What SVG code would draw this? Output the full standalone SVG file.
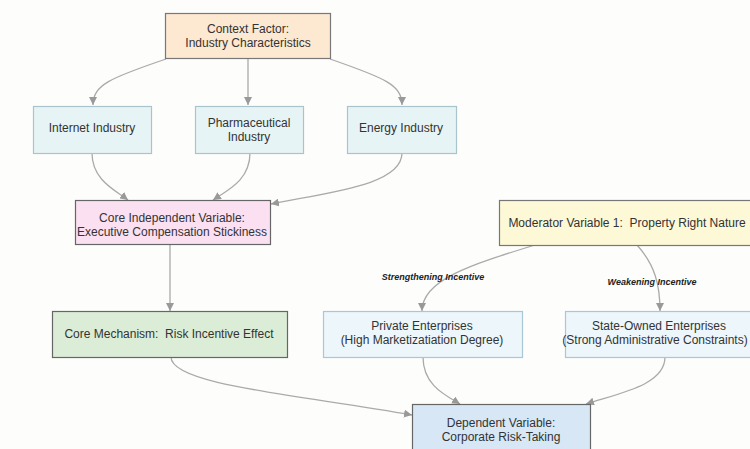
<svg xmlns="http://www.w3.org/2000/svg" width="750" height="449" viewBox="0 0 750 449">
<defs>
<marker id="arr" markerWidth="9" markerHeight="8" refX="8" refY="4" orient="auto" markerUnits="userSpaceOnUse">
<path d="M0,0 L8,4 L0,8 z" fill="#999"/>
</marker>
<style>
.t{font-family:"Liberation Sans",Arial,sans-serif;font-size:12px;fill:#333;text-anchor:middle}
.lb{font-family:"Liberation Sans",Arial,sans-serif;font-size:9px;font-weight:bold;font-style:italic;fill:#222;text-anchor:middle}
.c{fill:none;stroke:#aaa;stroke-width:1.3;marker-end:url(#arr)}
.b{stroke-width:1.2}
</style>
</defs>
<rect width="750" height="449" fill="#fdfdfc"/>
<g id="connectors">
<path class="c" d="M166,59 C110,78 93,85 93,105"/>
<path class="c" d="M248,59 L248,105"/>
<path class="c" d="M330,59 C385,78 402,85 402,105"/>
<path class="c" d="M92,153 C92,180 115,190 128,200"/>
<path class="c" d="M250,153 C250,180 228,190 213,200"/>
<path class="c" d="M402,153 C402,185 330,192 271,204"/>
<path class="c" d="M170,244 L170,311"/>
<path class="c" d="M535,245 C470,265 422,280 422,311"/>
<path class="c" d="M637,245 C655,265 660,285 660,311"/>
<path class="c" d="M171,357 C171,385 300,395 412,415"/>
<path class="c" d="M423,357 C423,385 445,395 460,404"/>
<path class="c" d="M665,357 C665,385 620,393 586,404"/>
</g>
<g id="labels">
<text class="lb" x="433" y="280">Strengthening Incentive</text>
<text class="lb" x="652" y="285">Weakening Incentive</text>
</g>
<g id="context">
<rect class="b" x="165.5" y="13.5" width="165" height="45" fill="#fde8d2" stroke="#777"/>
<text class="t" x="248" y="33">Context Factor:</text>
<text class="t" x="248" y="47">Industry Characteristics</text>
</g>
<g id="internet">
<rect class="b" x="33.5" y="106.5" width="118" height="47" fill="#e7f4f6" stroke="#a9c4cc"/>
<text class="t" x="92" y="132">Internet Industry</text>
</g>
<g id="pharma">
<rect class="b" x="195.5" y="106.5" width="108" height="47" fill="#e7f4f6" stroke="#a9c4cc"/>
<text class="t" x="249" y="127">Pharmaceutical</text>
<text class="t" x="249" y="141">Industry</text>
</g>
<g id="energy">
<rect class="b" x="347.5" y="106.5" width="109" height="47" fill="#e7f4f6" stroke="#a9c4cc"/>
<text class="t" x="401" y="132">Energy Industry</text>
</g>
<g id="core-independent">
<rect class="b" x="75.5" y="200.5" width="195" height="44" fill="#fbe0f1" stroke="#666"/>
<text class="t" x="172" y="222">Core Independent Variable:</text>
<text class="t" x="172" y="236">Executive Compensation Stickiness</text>
</g>
<g id="moderator">
<rect class="b" x="499.5" y="200.5" width="260" height="45" fill="#fdf8d6" stroke="#777"/>
<text class="t" x="627" y="227" xml:space="preserve">Moderator Variable 1:  Property Right Nature</text>
</g>
<g id="core-mechanism">
<rect class="b" x="52.5" y="311.5" width="235" height="46" fill="#dbedd6" stroke="#666"/>
<text class="t" x="169" y="338" xml:space="preserve">Core Mechanism:  Risk Incentive Effect</text>
</g>
<g id="private">
<rect class="b" x="323.5" y="311.5" width="199" height="46" fill="#ecf6fb" stroke="#a9c8d6"/>
<text class="t" x="422" y="330">Private Enterprises</text>
<text class="t" x="422" y="344">(High Marketizatiation Degree)</text>
</g>
<g id="state-owned">
<rect class="b" x="565.5" y="311.5" width="191" height="46" fill="#ecf6fb" stroke="#a9c8d6"/>
<text class="t" x="659" y="330">State-Owned Enterprises</text>
<text class="t" x="655" y="344">(Strong Administrative Constraints)</text>
</g>
<g id="dependent">
<rect class="b" x="412.5" y="404.5" width="178" height="50" fill="#d8e7f6" stroke="#666"/>
<text class="t" x="501" y="427">Dependent Variable:</text>
<text class="t" x="501" y="441">Corporate Risk-Taking</text>
</g>
</svg>
